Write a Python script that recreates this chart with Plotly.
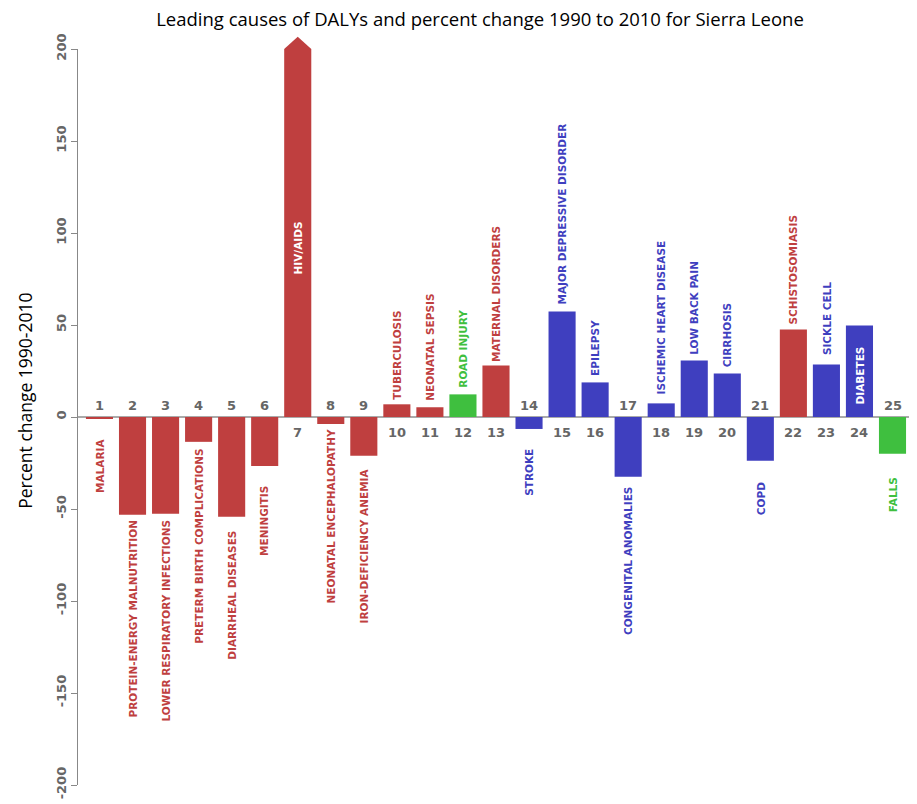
import plotly.graph_objects as go

ranks = list(range(1, 26))
causes = [
    "MALARIA", "PROTEIN-ENERGY MALNUTRITION", "LOWER RESPIRATORY INFECTIONS",
    "PRETERM BIRTH COMPLICATIONS", "DIARRHEAL DISEASES", "MENINGITIS", "HIV/AIDS",
    "NEONATAL ENCEPHALOPATHY", "IRON-DEFICIENCY ANEMIA", "TUBERCULOSIS",
    "NEONATAL SEPSIS", "ROAD INJURY", "MATERNAL DISORDERS", "STROKE",
    "MAJOR DEPRESSIVE DISORDER", "EPILEPSY", "CONGENITAL ANOMALIES",
    "ISCHEMIC HEART DISEASE", "LOW BACK PAIN", "CIRRHOSIS", "COPD",
    "SCHISTOSOMIASIS", "SICKLE CELL", "DIABETES", "FALLS",
]
groups = ["C", "C", "C", "C", "C", "C", "C", "C", "C", "C", "C", "I", "C",
          "N", "N", "N", "N", "N", "N", "N", "N", "C", "N", "N", "I"]
pct_change = [-1.0, -53.1, -52.6, -13.5, -54.2, -26.6, 200.0, -3.8, -21.1, 6.9,
              5.3, 12.3, 28.0, -6.5, 57.3, 18.8, -32.5, 7.4, 30.7, 23.7, -23.8,
              47.5, 28.6, 49.7, -20.0]
inside_labels = ["HIV/AIDS", "DIABETES"]
y_ticks = [-200, -150, -100, -50, 0, 50, 100, 150, 200]

group_colors = {"C": "#BF3F3F", "N": "#3F3FBF", "I": "#3FBF3F"}
Y_MIN, Y_MAX = -200, 200
X_RANGE = [0.35, 25.59]

shown = [max(min(v, Y_MAX), Y_MIN) for v in pct_change]
colors = [group_colors[g] for g in groups]

fig = go.Figure()
fig.add_trace(go.Bar(x=ranks, y=shown, marker=dict(color=colors, line=dict(width=0)),
                     hoverinfo="skip", showlegend=False))

lab_font = dict(family="DejaVu Sans", size=10.5, weight="bold")
num_font = dict(family="DejaVu Sans", size=13, weight="bold", color="#666666")
annotations = []
for r, name, v, s, c in zip(ranks, causes, pct_change, shown, colors):
    # rank number on the opposite side of the zero line
    annotations.append(dict(x=r, y=0, xref="x", yref="y", text=str(r), showarrow=False,
                            font=num_font, yanchor="middle",
                            yshift=(-15 if v >= 0 else 12)))
    n = len(name)
    if name in inside_labels:
        annotations.append(dict(x=r, y=s * 0.46, xref="x", yref="y", text=name,
                                showarrow=False, textangle=-90, yanchor="middle",
                                font=dict(lab_font, color="white")))
    elif v >= 0:
        annotations.append(dict(x=r, y=s, xref="x", yref="y", text=name,
                                showarrow=False, textangle=-90, yanchor="middle",
                                yshift=5.2 + 3.68 * n, font=dict(lab_font, color=c)))
    else:
        annotations.append(dict(x=r, y=s, xref="x", yref="y", text=name,
                                showarrow=False, textangle=-90, yanchor="middle",
                                yshift=-(26.5 + 2.88 * n), font=dict(lab_font, color=c)))

# y-axis title
annotations.append(dict(x=-0.0635, y=0.522, xref="paper", yref="paper",
                        text="Percent change 1990-2010", showarrow=False, textangle=-90,
                        xanchor="center", yanchor="middle",
                        font=dict(family="Open Sans", size=17.5, color="#000000")))

# arrow heads for bars exceeding the axis maximum
shapes = []
bar_w = 0.82
span = X_RANGE[1] - X_RANGE[0]
for r, v, c in zip(ranks, pct_change, colors):
    if v >= Y_MAX:
        xl = (r - bar_w / 2 - X_RANGE[0]) / span
        xc = (r - X_RANGE[0]) / span
        xr = (r + bar_w / 2 - X_RANGE[0]) / span
        path = f"M {xl} 1 L {xc} 1.0167 L {xr} 1 Z"
        shapes.append(dict(type="path", path=path, xref="paper", yref="paper",
                           fillcolor=c, line=dict(width=0)))

fig.update_layout(
    width=909, height=796,
    margin=dict(l=70, r=5, t=41, b=16),
    plot_bgcolor="white", paper_bgcolor="white",
    bargap=0.18,
    title=dict(text="Leading causes of DALYs and percent change 1990 to 2010 for Sierra Leone",
               x=0.482, xref="paper", xanchor="center", y=0.9855, yref="container",
               yanchor="middle", font=dict(family="Open Sans", size=18.5, color="#000000")),
    xaxis=dict(range=X_RANGE, visible=False, showgrid=False, zeroline=False),
    yaxis=dict(range=[Y_MIN, Y_MAX], tickvals=y_ticks, ticktext=[str(t) for t in y_ticks],
               tickangle=-90, ticks="outside", ticklen=6, tickcolor="#888888",
               showline=True, linecolor="#888888", linewidth=1, showgrid=False,
               zeroline=True, zerolinecolor="#aaaaaa", zerolinewidth=2,
               tickfont=dict(family="DejaVu Sans", size=13, weight="bold", color="#666666")),
    annotations=annotations,
    shapes=shapes,
)

fig.write_html("out.html")
